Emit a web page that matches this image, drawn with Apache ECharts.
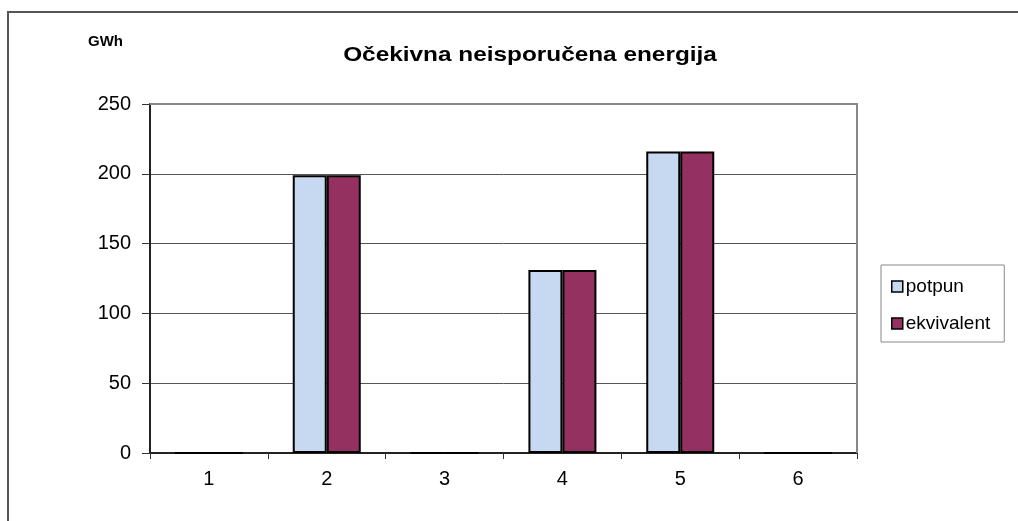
<!DOCTYPE html>
<html>
<head>
<meta charset="utf-8">
<script src="https://cdn.jsdelivr.net/npm/echarts@6/dist/echarts.min.js"></script>
<style>
html,body{margin:0;padding:0;background:#fff;}
#c{width:1018px;height:521px;}
</style>
</head>
<body>
<div id="c"></div>
<script>
var categories = ['1','2','3','4','5','6'];
var potpun = [0, 199, 0, 131, 216, 0];
var ekvivalent = [0, 199, 0, 131, 216, 0];
var seriesNames = ['potpun', 'ekvivalent'];
var titleText = 'Očekivna neisporučena energija';
var unitText = 'GWh';

var chart = echarts.init(document.getElementById('c'), null, {renderer: 'canvas'});
var F = 'Liberation Sans, Arial, sans-serif';
chart.setOption({
  animation: false,
  backgroundColor: '#fff',
  graphic: [
    {type: 'text', x: 530, y: 55, scaleX: 1.16, scaleY: 1,
     style: {text: titleText, font: 'bold 21px ' + F, fill: '#000', textAlign: 'center', textVerticalAlign: 'middle'}},
    {type: 'text', x: 88, y: 42,
     style: {text: unitText, font: 'bold 15px ' + F, fill: '#000', textAlign: 'left', textVerticalAlign: 'middle'}},
    {type: 'polyline', shape: {points: [[8, 530], [8, 12], [1030, 12]]}, style: {stroke: '#555', lineWidth: 2, fill: null}},
    {type: 'polyline', shape: {points: [[150, 104], [857, 104], [857, 453]]}, style: {stroke: '#888', lineWidth: 2, fill: null}, z: 10}
  ],
  legend: {
    orient: 'vertical',
    left: 881, top: 265,
    data: seriesNames,
    icon: 'rect',
    itemWidth: 11, itemHeight: 11,
    itemGap: 18,
    padding: [12, 14, 9, 10],
    borderColor: '#888', borderWidth: 1,
    itemStyle: {borderColor: '#000', borderWidth: 1.5},
    textStyle: {fontFamily: F, fontSize: 19, color: '#000', lineHeight: 18, padding: [0, 0, 0, -2]}
  },
  grid: {left: 150, right: 161, top: 104, bottom: 68, containLabel: false},
  xAxis: {
    type: 'category',
    data: categories,
    axisLine: {lineStyle: {color: '#222', width: 2}},
    axisTick: {show: true, length: 6, lineStyle: {color: '#333'}},
    axisLabel: {fontFamily: F, fontSize: 20, color: '#000', margin: 16},
    splitLine: {show: false}
  },
  yAxis: {
    type: 'value',
    min: 0, max: 250, interval: 50,
    axisLine: {show: true, lineStyle: {color: '#222', width: 2}},
    axisTick: {show: true, length: 8, lineStyle: {color: '#333'}},
    axisLabel: {fontFamily: F, fontSize: 20, color: '#000', margin: 19},
    splitLine: {show: true, lineStyle: {color: '#555', width: 1}}
  },
  series: [
    {
      name: seriesNames[0], type: 'bar', data: potpun,
      barWidth: 34, barGap: '0%',
      itemStyle: {color: '#c6d9f1', borderColor: '#000', borderWidth: 2}
    },
    {
      name: seriesNames[1], type: 'bar', data: ekvivalent,
      barWidth: 34, barGap: '0%',
      itemStyle: {color: '#953160', borderColor: '#000', borderWidth: 2}
    }
  ]
});
</script>
</body>
</html>
